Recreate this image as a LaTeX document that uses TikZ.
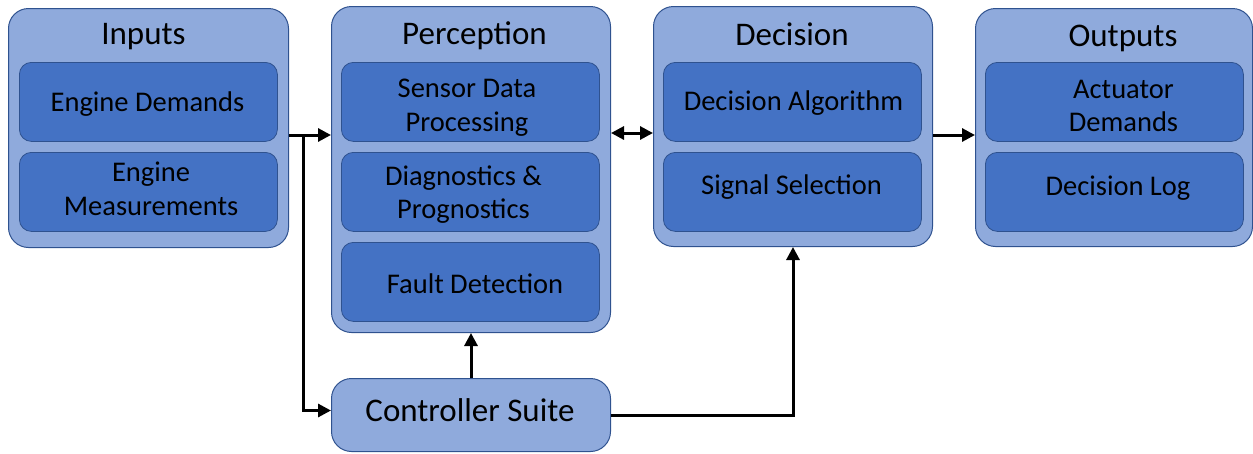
\documentclass[tikz,border=0pt]{standalone}
\usepackage{fontspec}
\setmainfont{Carlito}
\usetikzlibrary{arrows.meta}
\definecolor{outerfill}{HTML}{8FAADC}
\definecolor{innerfill}{HTML}{4472C4}
\definecolor{edgeblue}{HTML}{2F528F}
\begin{document}
\begin{tikzpicture}[x=1pt,y=-1pt,
  outerbox/.style={draw=edgeblue, line width=1pt, fill=outerfill, rounded corners=20pt, anchor=north west, inner sep=0pt},
  innerbox/.style={draw=edgeblue, line width=0.8pt, fill=innerfill, rounded corners=12pt, anchor=north west,
    minimum width=258pt, minimum height=79pt, inner sep=0pt},
  innertext/.style={align=center, inner sep=0pt, font=\fontsize{28.5}{33.5}\selectfont},
  title/.style={font=\fontsize{33}{38}\selectfont, inner sep=0pt},
  conn/.style={line width=3pt, -{Triangle[length=13pt,width=13pt]}},
  biconn/.style={line width=3pt, {Triangle[length=13pt,width=13pt]}-{Triangle[length=13pt,width=13pt]}}]
\useasboundingbox (0,0) rectangle (1253,453);
% outer boxes
\node[outerbox, minimum width=280pt, minimum height=239pt] (inputs) at (8,8) {};
\node[outerbox, minimum width=279pt, minimum height=326pt] (perc) at (331,6) {};
\node[outerbox, minimum width=279pt, minimum height=240pt] (dec) at (653,6) {};
\node[outerbox, minimum width=277pt, minimum height=238pt] (outs) at (975,8) {};
\node[outerbox, minimum width=279pt, minimum height=73pt] (ctrl) at (331,378) {};
\node[title] (tctrl) at (470,410.5) {Controller Suite};
% titles
\node[title] (tin) at (143.5,37) {Inputs};
\node[title] (tper) at (474.5,36) {Perception};
\node[title] (tdec) at (792,34) {Decision};
\node[title] (tout) at (1123,38) {Outputs};
% inner boxes
\node[innerbox] (ed) at (19,62) {};
\node[innerbox] (em) at (19,152) {};
\node[innerbox] (sdp) at (341,62) {};
\node[innerbox] (dp) at (341,152) {};
\node[innerbox] (fd) at (341,242) {};
\node[innerbox] (da) at (663,62) {};
\node[innerbox] (ss) at (663,152) {};
\node[innerbox] (ad) at (985,62) {};
\node[innerbox] (dl) at (985,152) {};
% inner texts
\node[innertext] (ted) at (147.5,104.5) {Engine Demands};
\node[innertext] (tem) at (151,189) {Engine\\Measurements};
\node[innertext] (tsdp) at (467,107.5) {Sensor Data\\Processing};
\node[innertext] (tdp) at (463.5,194.5) {Diagnostics \&\\Prognostics};
\node[innertext] (tfd) at (475,283.5) {Fault Detection};
\node[innertext] (tda) at (793.5,103.5) {Decision Algorithm};
\node[innertext] (tss) at (791.5,187.5) {Signal Selection};
\node[innertext] (tad) at (1123.5,106) {Actuator\\Demands};
\node[innertext] (tdl) at (1118,188.5) {Decision Log};
% connectors
\coordinate (j) at (303,135);
\coordinate (pd) at (631,133);
\draw[conn] (inputs.east |- j) -- (perc.west |- j);
\draw[conn] (j) |- (ctrl.west |- tctrl);
\draw[biconn] (perc.east |- pd) -- (dec.west |- pd);
\draw[conn] (dec.east |- j) -- (outs.west |- j);
\draw[conn] (ctrl.north) -- (perc.south);
\draw[conn] (ctrl.east) -| (dec.south);
\end{tikzpicture}
\end{document}
